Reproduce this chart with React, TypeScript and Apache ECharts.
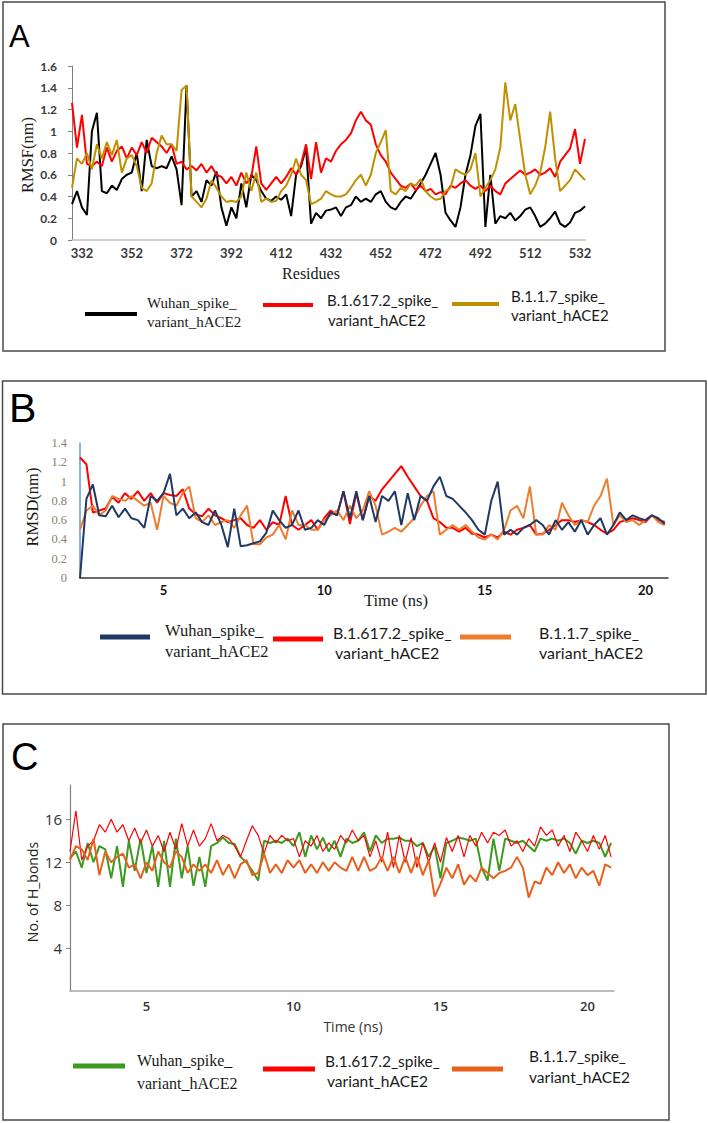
import React, { useEffect, useRef } from "react";
import * as echarts from "echarts";

// ---------- Panel A : RMSF per residue ----------
const residueStart = 328;
const residueStep = 2;
const residueTicks = [332, 352, 372, 392, 412, 432, 452, 472, 492, 512, 532];
const rmsfWuhan = [
  0.33, 0.45, 0.30, 0.23, 1.00, 1.17, 0.45, 0.43, 0.50, 0.46,
  0.56, 0.60, 0.62, 0.80, 0.45, 0.92, 0.68, 0.66, 0.68, 0.66,
  0.77, 0.65, 0.32, 1.42, 0.40, 0.45, 0.35, 0.55, 0.50, 0.63,
  0.30, 0.13, 0.30, 0.20, 0.52, 0.30, 0.60, 0.55, 0.45, 0.38,
  0.36, 0.40, 0.37, 0.42, 0.22, 0.60, 0.68, 0.85, 0.15, 0.25,
  0.20, 0.27, 0.28, 0.30, 0.22, 0.30, 0.32, 0.40, 0.35, 0.38,
  0.35, 0.42, 0.45, 0.35, 0.30, 0.28, 0.35, 0.40, 0.38, 0.45,
  0.52, 0.60, 0.70, 0.80, 0.60, 0.25, 0.18, 0.12, 0.30, 0.60,
  0.78, 1.05, 1.16, 0.12, 0.60, 0.15, 0.22, 0.20, 0.25, 0.18,
  0.22, 0.28, 0.30, 0.22, 0.12, 0.15, 0.20, 0.26, 0.15, 0.12,
  0.16, 0.25, 0.27, 0.31,
];
const rmsfDelta = [
  1.26, 0.85, 1.15, 0.70, 0.68, 0.72, 0.68, 0.85, 0.72, 0.82,
  0.86, 0.75, 0.85, 0.78, 0.90, 0.80, 0.94, 0.90, 0.86, 0.80,
  0.88, 0.70, 0.72, 0.65, 0.68, 0.64, 0.70, 0.62, 0.68, 0.60,
  0.58, 0.52, 0.58, 0.50, 0.62, 0.52, 0.58, 0.86, 0.52, 0.46,
  0.52, 0.58, 0.52, 0.58, 0.66, 0.60, 0.70, 0.88, 0.56, 0.90,
  0.62, 0.75, 0.72, 0.82, 0.88, 0.92, 0.98, 1.10, 1.18, 1.10,
  1.06, 0.88, 0.78, 0.72, 0.62, 0.56, 0.50, 0.48, 0.52, 0.46,
  0.50, 0.45, 0.47, 0.42, 0.44, 0.42, 0.50, 0.48, 0.52, 0.55,
  0.50, 0.47, 0.50, 0.45, 0.50, 0.45, 0.42, 0.52, 0.56, 0.60,
  0.64, 0.60, 0.62, 0.65, 0.60, 0.62, 0.66, 0.58, 0.72, 0.78,
  0.84, 1.02, 0.70, 0.93,
];
const rmsfAlpha = [
  0.48, 0.75, 0.70, 0.80, 0.65, 0.88, 0.75, 0.90, 0.78, 0.92,
  0.62, 0.75, 0.78, 0.68, 0.48, 0.45, 0.52, 0.80, 0.96, 0.88,
  0.88, 0.82, 1.38, 1.42, 0.40, 0.35, 0.30, 0.38, 0.55, 0.48,
  0.40, 0.35, 0.36, 0.35, 0.40, 0.62, 0.45, 0.62, 0.35, 0.38,
  0.35, 0.36, 0.45, 0.50, 0.60, 0.75, 0.60, 0.55, 0.33, 0.35,
  0.38, 0.45, 0.42, 0.40, 0.40, 0.42, 0.48, 0.55, 0.60, 0.50,
  0.60, 0.80, 0.90, 1.01, 0.45, 0.42, 0.48, 0.45, 0.52, 0.50,
  0.56, 0.45, 0.40, 0.37, 0.38, 0.45, 0.48, 0.65, 0.62, 0.60,
  0.65, 0.80, 0.40, 0.48, 0.55, 0.65, 0.85, 1.45, 1.10, 1.25,
  0.92, 0.60, 0.42, 0.50, 0.62, 0.85, 1.18, 0.75, 0.45, 0.50,
  0.55, 0.65, 0.60, 0.55,
];

// ---------- Panel B : RMSD over time ----------
const timeStartB = 2.4;
const timeStep = 0.2;
const timeTicks = [5, 10, 15, 20];
const rmsdWuhan = [
  0.00, 0.82, 0.97, 0.65, 0.64, 0.75, 0.63, 0.72, 0.62, 0.60,
  0.52, 0.85, 0.80, 0.88, 1.08, 0.65, 0.72, 0.62, 0.68, 0.58,
  0.55, 0.70, 0.55, 0.32, 0.72, 0.33, 0.34, 0.36, 0.38, 0.47,
  0.70, 0.60, 0.52, 0.55, 0.70, 0.50, 0.52, 0.60, 0.55, 0.68,
  0.65, 0.90, 0.62, 0.90, 0.60, 0.85, 0.58, 0.85, 0.80, 0.90,
  0.55, 0.88, 0.60, 0.85, 0.80, 0.95, 1.05, 0.85, 0.82, 0.75,
  0.68, 0.60, 0.50, 0.45, 0.80, 1.00, 0.45, 0.50, 0.45, 0.52,
  0.55, 0.60, 0.55, 0.45, 0.60, 0.50, 0.58, 0.48, 0.60, 0.45,
  0.55, 0.62, 0.45, 0.55, 0.68, 0.60, 0.65, 0.62, 0.60, 0.65,
  0.62, 0.56,
];
const rmsdDelta = [
  1.25, 1.18, 0.68, 0.70, 0.72, 0.84, 0.78, 0.88, 0.82, 0.90,
  0.80, 0.88, 0.78, 0.88, 0.86, 0.85, 0.92, 0.72, 0.66, 0.64,
  0.72, 0.65, 0.62, 0.58, 0.60, 0.62, 0.55, 0.52, 0.60, 0.50,
  0.58, 0.55, 0.85, 0.55, 0.50, 0.55, 0.60, 0.50, 0.62, 0.70,
  0.65, 0.90, 0.56, 0.88, 0.60, 0.85, 0.80, 0.92, 1.00, 1.08,
  1.16, 1.05, 0.95, 0.85, 0.80, 0.62, 0.58, 0.52, 0.52, 0.48,
  0.52, 0.46, 0.45, 0.42, 0.45, 0.42, 0.48, 0.45, 0.50, 0.52,
  0.55, 0.45, 0.46, 0.50, 0.55, 0.60, 0.60, 0.58, 0.60, 0.58,
  0.55, 0.50, 0.46, 0.50, 0.58, 0.60, 0.62, 0.60, 0.58, 0.65,
  0.60, 0.58,
];
const rmsdAlpha = [
  0.50, 0.70, 0.75, 0.65, 0.70, 0.85, 0.82, 0.80, 0.85, 0.80,
  0.75, 0.78, 0.50, 0.85, 0.78, 0.75, 0.88, 0.95, 0.62, 0.58,
  0.65, 0.55, 0.58, 0.60, 0.52, 0.65, 0.75, 0.35, 0.35, 0.42,
  0.45, 0.55, 0.40, 0.70, 0.55, 0.55, 0.50, 0.50, 0.60, 0.65,
  0.70, 0.60, 0.75, 0.62, 0.70, 0.90, 0.75, 0.45, 0.48, 0.52,
  0.48, 0.55, 0.62, 0.75, 0.85, 0.90, 0.45, 0.50, 0.55, 0.50,
  0.55, 0.48, 0.42, 0.40, 0.45, 0.40, 0.50, 0.70, 0.75, 0.62,
  0.95, 0.45, 0.45, 0.55, 0.50, 0.78, 0.65, 0.55, 0.60, 0.58,
  0.75, 0.85, 1.03, 0.55, 0.65, 0.58, 0.60, 0.55, 0.60, 0.65,
  0.58, 0.55,
];

// ---------- Panel C : number of H-bonds ----------
const timeStartC = 2.4;
const hbondTicks = [4, 8, 12, 16];
const hbWuhan = [
  12.4, 13.0, 11.5, 13.8, 12.0, 13.5, 13.2, 10.5, 13.5, 9.7,
  14.0, 11.2, 14.2, 11.0, 13.5, 9.7, 14.0, 9.7, 14.2, 10.5,
  13.5, 9.8, 12.5, 9.7, 13.5, 13.8, 14.3, 13.8, 13.7, 12.5,
  12.0, 11.2, 10.3, 14.0, 13.8, 14.0, 13.8, 14.2, 13.5, 14.8,
  12.5, 14.5, 13.2, 14.3, 13.0, 14.0, 12.5, 14.2, 13.8, 14.0,
  14.8, 13.0, 14.5, 13.8, 14.2, 14.2, 14.3, 14.0, 14.0, 13.5,
  13.8, 12.5, 13.5, 10.5, 13.8, 14.0, 14.3, 14.2, 14.0, 14.2,
  11.5, 10.3, 14.2, 11.2, 14.2, 14.0, 13.8, 14.0, 13.5, 13.0,
  14.2, 14.0, 14.2, 14.0, 14.2, 13.8, 12.8, 14.0, 13.8, 14.0,
  13.8, 12.5, 13.8,
];
const hbDelta = [
  13.0, 16.8, 12.2, 13.5, 14.0, 15.5, 14.8, 16.0, 14.8, 15.5,
  14.0, 15.2, 13.8, 15.0, 13.5, 14.5, 13.0, 14.8, 13.2, 15.6,
  13.5, 15.0, 13.5, 14.2, 15.6, 14.0, 14.5, 14.2, 13.5, 12.5,
  14.0, 15.4, 14.5, 12.8, 14.5, 13.8, 14.5, 14.0, 14.2, 12.5,
  14.0, 13.5, 14.5, 13.0, 13.8, 13.2, 14.5, 13.8, 15.0, 14.0,
  14.5, 12.5, 14.0, 12.0, 14.8, 11.5, 14.5, 12.0, 14.3, 11.5,
  13.8, 12.0, 13.8, 12.0, 14.3, 13.0, 14.5, 12.5, 14.5, 13.5,
  14.8, 13.8, 14.8, 14.5, 15.0, 13.5, 14.0, 13.0, 14.2, 13.5,
  15.3, 14.5, 15.0, 13.5, 14.5, 13.0, 14.8, 14.0, 13.0, 14.5,
  13.2, 14.5, 12.5,
];
const hbAlpha = [
  12.2, 13.5, 13.2, 12.2, 14.2, 10.8, 13.0, 12.0, 12.5, 12.8,
  11.5, 11.8, 10.5, 12.0, 11.2, 13.0, 12.0, 11.5, 13.0, 12.5,
  11.0, 11.8, 11.2, 11.8, 11.0, 12.2, 10.8, 11.8, 10.5, 11.8,
  12.2, 10.8, 11.0, 12.8, 11.0, 11.8, 11.0, 12.2, 11.5, 12.2,
  11.0, 11.8, 11.0, 12.0, 11.2, 12.0, 11.5, 11.2, 12.5, 11.2,
  12.5, 11.2, 11.5, 12.5, 11.2, 12.5, 11.0, 12.5, 11.0, 12.5,
  10.8, 12.2, 8.8, 10.0, 11.5, 10.5, 11.8, 9.9, 10.8, 10.2,
  11.5, 11.0, 10.5, 11.0, 11.2, 11.5, 12.5, 11.5, 8.7, 10.2,
  10.0, 11.5, 10.8, 12.0, 11.0, 11.8, 10.5, 11.5, 10.8, 11.2,
  9.8, 11.8, 11.5,
];

const seriesNames = ["Wuhan_spike_variant_hACE2", "B.1.617.2_spike_variant_hACE2", "B.1.1.7_spike_variant_hACE2"];

const residues = rmsfWuhan.map((_, i) => residueStart + i * residueStep);
const timesB = rmsdWuhan.map((_, i) => +(timeStartB + i * timeStep).toFixed(1));
const timesC = hbWuhan.map((_, i) => +(timeStartC + i * timeStep).toFixed(1));

const pair = (xs: number[], ys: number[]) => xs.map((x, i) => [x, ys[i]]);

const SERIF = "'Liberation Serif', 'DejaVu Serif', serif";
const SANS = "Lato, 'Open Sans', sans-serif";
const OPEN = "'Open Sans', 'Noto Sans', sans-serif";
const ARIAL = "'Liberation Sans', Arial, sans-serif";

function txt(text: string, x: number, y: number, size: number, family: string, extra: any = {}) {
  return {
    type: "text",
    x,
    y,
    rotation: extra.rotation || 0,
    silent: true,
    style: {
      text,
      fontSize: size,
      fontFamily: family,
      fontWeight: extra.weight || "normal",
      fill: extra.fill || "#1a1a1a",
      align: extra.align || "left",
      verticalAlign: "middle",
    },
  };
}
function seg(x1: number, x2: number, y: number, color: string, w: number) {
  return { type: "line", silent: true, shape: { x1, y1: y, x2, y2: y }, style: { stroke: color, lineWidth: w } };
}
function box(x: number, y: number, w: number, h: number) {
  return { type: "rect", silent: true, shape: { x, y, width: w, height: h }, style: { fill: "none", stroke: "#4a4a4a", lineWidth: 1.5 } };
}

export default function App() {
  const ref = useRef<HTMLDivElement>(null);
  useEffect(() => {
    if (!ref.current) return;
    const chart = echarts.init(ref.current, undefined, { renderer: "svg" });
    const colA = ["#000000", "#ff0000", "#bf9000"];
    const colB = ["#1f3864", "#ff0000", "#ed7d31"];
    const colC = ["#3c9a1e", "#ff0000", "#e8601c"];
    const option: any = {
      animation: false,
      backgroundColor: "#ffffff",
      grid: [
        { left: 72, top: 66, width: 513, height: 174 },
        { left: 80, top: 443, width: 588, height: 135 },
        { left: 70, top: 785, width: 544, height: 206 },
      ],
      xAxis: [
        {
          type: "value", gridIndex: 0, min: 328, max: 534,
          axisLine: { onZero: false, lineStyle: { color: "#bfbfbf", width: 1.5 } },
          axisTick: { show: false },
          splitLine: { show: false },
          axisLabel: { customValues: residueTicks, margin: 6, color: "#3a3a3a", fontFamily: SANS, fontWeight: "bold", fontSize: 13 },
        },
        {
          type: "value", gridIndex: 1, min: 2.4, max: 20.7,
          axisLine: { onZero: false, lineStyle: { color: "#3a3a3a", width: 1.5 } },
          axisTick: { show: false },
          splitLine: { show: false },
          axisLabel: { customValues: timeTicks, margin: 5, color: "#111", fontFamily: SANS, fontWeight: "bold", fontSize: 13 },
        },
        {
          type: "value", gridIndex: 2, min: 2.4, max: 20.9,
          axisLine: { onZero: false, lineStyle: { color: "#a6a6a6", width: 1.5 } },
          axisTick: { show: false },
          splitLine: { show: false },
          axisLabel: { customValues: timeTicks, margin: 8, color: "#333", fontFamily: OPEN, fontWeight: 600, fontSize: 13 },
        },
      ],
      yAxis: [
        {
          type: "value", gridIndex: 0, min: 0, max: 1.6, interval: 0.2,
          axisLine: { show: true, onZero: false, lineStyle: { color: "#808080", width: 1 } },
          axisTick: { show: true, length: 4, lineStyle: { color: "#808080" } },
          splitLine: { show: false },
          axisLabel: { margin: 15, color: "#3a3a3a", fontFamily: SANS, fontWeight: "bold", fontSize: 12 },
        },
        {
          type: "value", gridIndex: 1, min: 0, max: 1.4, interval: 0.2,
          axisLine: { show: true, onZero: false, lineStyle: { color: "#5b9bd5", width: 1.5 } },
          axisTick: { show: false },
          splitLine: { show: false },
          axisLabel: { margin: 13, color: "#8a7f75", fontFamily: SERIF, fontSize: 12.5 },
        },
        {
          type: "value", gridIndex: 2, min: 0, max: 19.2,
          axisLine: { show: true, onZero: false, lineStyle: { color: "#808080", width: 1.2 } },
          axisTick: { show: true, length: 4, customValues: hbondTicks, lineStyle: { color: "#808080" } },
          splitLine: { show: false },
          axisLabel: { customValues: hbondTicks, margin: 8, color: "#333", fontFamily: OPEN, fontSize: 15 },
        },
      ],
      series: [
        { name: seriesNames[0], type: "line", xAxisIndex: 0, yAxisIndex: 0, data: pair(residues, rmsfWuhan), symbol: "none", lineStyle: { color: colA[0], width: 2 }, itemStyle: { color: colA[0] }, silent: true },
        { name: seriesNames[1], type: "line", xAxisIndex: 0, yAxisIndex: 0, data: pair(residues, rmsfDelta), symbol: "none", lineStyle: { color: colA[1], width: 2 }, itemStyle: { color: colA[1] }, silent: true },
        { name: seriesNames[2], type: "line", xAxisIndex: 0, yAxisIndex: 0, data: pair(residues, rmsfAlpha), symbol: "none", lineStyle: { color: colA[2], width: 2 }, itemStyle: { color: colA[2] }, silent: true },
        { name: seriesNames[0], type: "line", xAxisIndex: 1, yAxisIndex: 1, data: pair(timesB, rmsdWuhan), symbol: "none", lineStyle: { color: colB[0], width: 2 }, itemStyle: { color: colB[0] }, silent: true, z: 4 },
        { name: seriesNames[1], type: "line", xAxisIndex: 1, yAxisIndex: 1, data: pair(timesB, rmsdDelta), symbol: "none", lineStyle: { color: colB[1], width: 2 }, itemStyle: { color: colB[1] }, silent: true, z: 2 },
        { name: seriesNames[2], type: "line", xAxisIndex: 1, yAxisIndex: 1, data: pair(timesB, rmsdAlpha), symbol: "none", lineStyle: { color: colB[2], width: 2 }, itemStyle: { color: colB[2] }, silent: true, z: 3 },
        { name: seriesNames[0], type: "line", xAxisIndex: 2, yAxisIndex: 2, data: pair(timesC, hbWuhan), symbol: "none", lineStyle: { color: colC[0], width: 2 }, itemStyle: { color: colC[0] }, silent: true },
        { name: seriesNames[1], type: "line", xAxisIndex: 2, yAxisIndex: 2, data: pair(timesC, hbDelta), symbol: "none", lineStyle: { color: colC[1], width: 1.2 }, itemStyle: { color: colC[1] }, silent: true },
        { name: seriesNames[2], type: "line", xAxisIndex: 2, yAxisIndex: 2, data: pair(timesC, hbAlpha), symbol: "none", lineStyle: { color: colC[2], width: 2 }, itemStyle: { color: colC[2] }, silent: true },
      ],
      graphic: [
        box(3, 2, 662, 349),
        box(2.5, 381, 703.5, 313),
        box(3, 724, 666, 396),
        // panel letters
        txt("A", 9, 36, 31, ARIAL, { fill: "#000" }),
        txt("B", 9, 408, 41, ARIAL, { fill: "#000" }),
        txt("C", 11, 757, 38, ARIAL, { fill: "#000" }),
        // axis titles
        txt("RMSF(nm)", 27, 155, 16.5, SERIF, { rotation: Math.PI / 2, align: "center" }),
        txt("Residues", 311, 273, 16, SERIF, { align: "center" }),
        txt("RMSD(nm)", 32, 507, 16.5, SERIF, { rotation: Math.PI / 2, align: "center" }),
        txt("Time (ns)", 396, 600, 16.5, SERIF, { align: "center" }),
        txt("No. of H_bonds", 32, 892, 14, OPEN, { rotation: Math.PI / 2, align: "center", fill: "#222" }),
        txt("Time (ns)", 353, 1026, 14, OPEN, { align: "center", fill: "#333" }),
        // legend A
        seg(85, 137, 314, colA[0], 4),
        txt("Wuhan_spike_", 147, 303, 15, SERIF),
        txt("variant_hACE2", 147, 322, 15, SERIF),
        seg(263, 313, 305, colA[1], 4),
        txt("B.1.617.2_spike_", 327, 300, 15, SANS),
        txt("variant_hACE2", 328, 320, 15, SANS),
        seg(452, 499, 304, colA[2], 4),
        txt("B.1.1.7_spike_", 511, 296, 15, SANS),
        txt("variant_hACE2", 511, 315, 15, SANS),
        // legend B
        seg(100, 150, 637, colB[0], 5),
        txt("Wuhan_spike_", 165, 630, 16.5, SERIF),
        txt("variant_hACE2", 165, 651, 16.5, SERIF),
        seg(273, 323, 639, colB[1], 5),
        txt("B.1.617.2_spike_", 333, 632, 16, SANS),
        txt("variant_hACE2", 335, 652, 16, SANS),
        seg(460, 511, 637, colB[2], 5),
        txt("B.1.1.7_spike_", 539, 632, 16, SANS),
        txt("variant_hACE2", 539, 652, 16, SANS),
        // legend C
        seg(73, 125, 1066, colC[0], 5),
        txt("Wuhan_spike_", 137, 1060, 16, SERIF),
        txt("variant_hACE2", 137, 1083, 16, SERIF),
        seg(263, 315, 1069, colC[1], 5),
        txt("B.1.617.2_spike_", 325, 1061, 15.5, SANS),
        txt("variant_hACE2", 327, 1081, 15.5, SANS),
        seg(452, 503, 1069, colC[2], 5),
        txt("B.1.1.7_spike_", 529, 1056, 15.5, SANS),
        txt("variant_hACE2", 529, 1077, 15.5, SANS),
      ],
    };
    chart.setOption(option);
    return () => chart.dispose();
  }, []);
  return <div ref={ref} style={{ position: "absolute", left: 0, top: 0, width: 708, height: 1123 }} />;
}
